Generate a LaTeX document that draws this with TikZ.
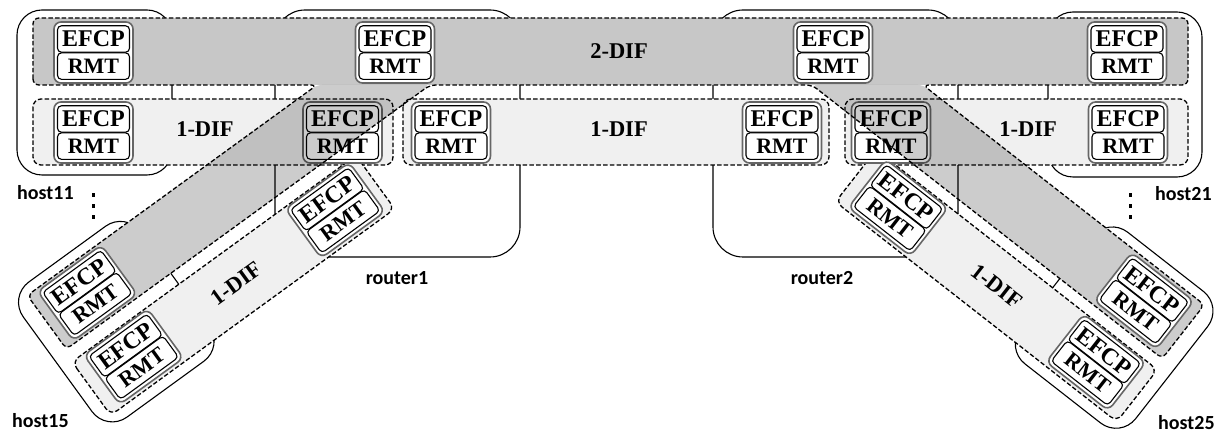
\documentclass[tikz,border=0pt]{standalone}
\usepackage{fontspec}
\setmainfont{Liberation Serif}
\newfontfamily\lblfamily{Carlito}
\usetikzlibrary{calc}
\definecolor{bandgray}{gray}{0.78}
\definecolor{difgray}{gray}{0.94}
\newcommand\efcpfont{\fontsize{24}{24}\selectfont\bfseries}
\newcommand\rmtfont{\fontsize{22}{22}\selectfont\bfseries}
\newcommand\diffont{\fontsize{22.5}{22.5}\selectfont\bfseries}
\newcommand\hostfont{\lblfamily\fontsize{20}{20}\selectfont\bfseries}
\tikzset{
  hostbox/.style={draw=black, line width=1.1pt, rounded corners=25pt},
  routerbox/.style={draw=black, line width=1.1pt, rounded corners=30pt},
  difdash/.style={draw=black, line width=1.3pt, dash pattern=on 4.5pt off 2.2pt},
  onedif/.style={difdash, fill=difgray, rounded corners=8pt},
  armfill/.style={fill=black, fill opacity=0.2, rounded corners=5pt},
  stackframe/.style={draw=black!60, line width=1.6pt, fill=white, rounded corners=7pt},
  ebox/.style={draw=black, line width=1.1pt, fill=white, rounded corners=4pt,
    minimum width=72pt, minimum height=26.5pt, inner sep=0pt, outer sep=0pt},
  diflabel/.style={font=\diffont, inner sep=0pt},
  hostlabel/.style={font=\hostfont, inner sep=0pt},
  leftgrp/.style={shift={(27.4,295.4)}, rotate=36, transform shape},
  rightgrp/.style={shift={(923,85)}, rotate=-38, transform shape},
  pics/stack/.style={code={
    \draw[stackframe] (-39.5,-30.5) rectangle (39.5,30.5);
    \node[ebox, font=\efcpfont] (-e) at (0,-13.5) {EFCP};
    \node[ebox, font=\rmtfont] (-r) at (0,13.6) {RMT};
  }}
}
\begin{document}
\begin{tikzpicture}[x=1pt,y=-1pt]
\useasboundingbox (0,0) rectangle (1224,435);

% ---------- host and router boxes ----------
\draw[hostbox] (17,10) rectangle (172,175);
\draw[hostbox] (1048,12) rectangle (1202,177);
\draw[routerbox] (275,10) rectangle (520,257);
\draw[routerbox] (713,10) rectangle (958,257);

\begin{scope}[leftgrp]
  \coordinate (LA1) at (0,0);
  \coordinate (LA2) at (0,66.4);
  \begin{scope}[even odd rule]
    \clip (-100,-100) rectangle (700,300) (0,0) rectangle (700,66.4);
    \draw[hostbox] (-16,-10) rectangle (129,157);
  \end{scope}
\end{scope}
\begin{scope}[rightgrp]
  \coordinate (RA1) at (357,0);
  \coordinate (RA2) at (357,68.3);
  \begin{scope}[even odd rule]
    \clip (-300,-100) rectangle (700,300) (-300,0) rectangle (357,68.3);
    \draw[hostbox] (227,-10) rectangle (373,157);
  \end{scope}
\end{scope}

% ---------- DIF areas ----------
\fill[bandgray, rounded corners=6pt] (33,18) rectangle (1188,85);
\draw[onedif] (33,99) rectangle (393,165);
\draw[onedif] (403,99) rectangle (829,165);
\draw[onedif] (845,99) rectangle (1188,165);
\begin{scope}[leftgrp]
  \draw[onedif] (-3,80) rectangle (348,146);
\end{scope}
\begin{scope}[rightgrp]
  \draw[onedif] (3,80) rectangle (360,146);
\end{scope}

% ---------- 1-DIF stacks ----------
\pic (h11b) at (93.5,132.5) {stack};
\pic (r1l) at (342.5,132.5) {stack};
\pic (r1m) at (451,132.5) {stack};
\pic (r2m) at (782,132.5) {stack};
\pic (r2r) at (891,132.5) {stack};
\pic (h21b) at (1128,132.5) {stack};
\begin{scope}[leftgrp]
  \pic (h15b) at (50,112) {stack};
  \pic (r1d) at (299,112) {stack};
\end{scope}
\begin{scope}[rightgrp]
  \pic (h25b) at (307,112) {stack};
  \pic (r2d) at (56,112) {stack};
\end{scope}

% ---------- 2-DIF arms ----------
\fill[armfill] (317,85) -- (LA1) -- (LA2) -- (430,85) -- cycle;
\fill[armfill] (923,85) -- (RA1) -- (RA2) -- (812,85) -- cycle;
\draw[difdash, rounded corners=6pt] (33,85) -- (33,18) -- (1188,18) -- (1188,85)
  -- (923,85) -- (RA1) -- (RA2) -- (812,85) -- (430,85) -- (LA2) -- (LA1)
  -- (317,85) -- cycle;

% ---------- 2-DIF stacks ----------
\pic (h11a) at (93.5,52.5) {stack};
\pic (r1a) at (395,52.5) {stack};
\pic (r2a) at (833,52.5) {stack};
\pic (h21a) at (1127,52.5) {stack};
\begin{scope}[leftgrp]
  \pic (h15a) at (50,33.2) {stack};
\end{scope}
\begin{scope}[rightgrp]
  \pic (h25a) at (307,34) {stack};
\end{scope}

% ---------- labels ----------
\node[diflabel] (d2) at (619,51.5) {2-DIF};
\node[diflabel] (d1a) at (205,129.5) {1-DIF};
\node[diflabel] (d1b) at (619,129.5) {1-DIF};
\node[diflabel] (d1c) at (1028,129.5) {1-DIF};
\begin{scope}[leftgrp]
  \node[diflabel] (d1d) at (176,113) {1-DIF};
\end{scope}
\begin{scope}[rightgrp]
  \node[diflabel] (d1e) at (182,113) {1-DIF};
\end{scope}

\node[hostlabel, anchor=west] (l11) at (17,193) {host11};
\node[hostlabel, anchor=west] (l15) at (12,421) {host15};
\node[hostlabel] (lr1) at (397,278) {router1};
\node[hostlabel] (lr2) at (822,278) {router2};
\node[hostlabel, anchor=west] (l21) at (1155,194) {host21};
\node[hostlabel, anchor=west] (l25) at (1158,423) {host25};

\foreach \y in {193,204,215} {
  \fill (91.7,\y) rectangle ++(3.5,4);
  \fill (1128.5,\y) rectangle ++(3.5,4);
}
\end{tikzpicture}
\end{document}
